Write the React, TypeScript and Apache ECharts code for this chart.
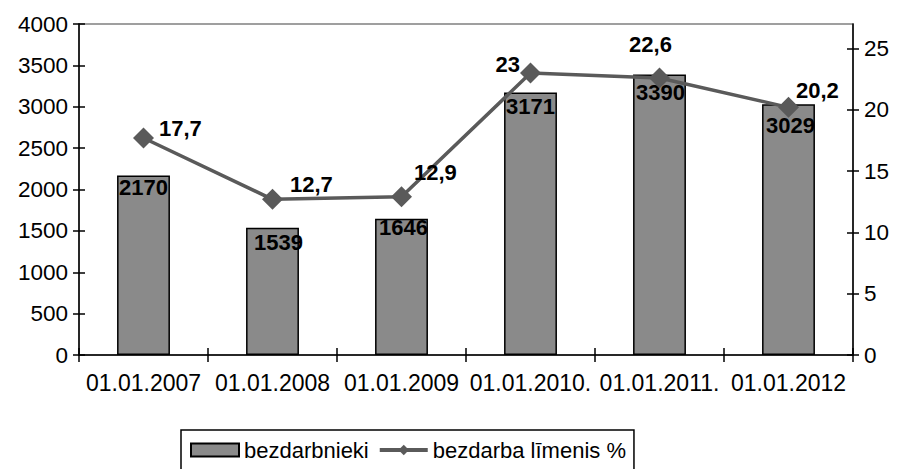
import React, { useEffect, useRef } from "react";
import * as echarts from "echarts";

const categories = ["01.01.2007", "01.01.2008", "01.01.2009", "01.01.2010.", "01.01.2011.", "01.01.2012"];
const unemployed = [2170, 1539, 1646, 3171, 3390, 3029];
const unemploymentRate = [17.7, 12.7, 12.9, 23, 22.6, 20.2];
const leftTicks = [0, 500, 1000, 1500, 2000, 2500, 3000, 3500, 4000];
const rightTicks = [0, 5, 10, 15, 20, 25];

const barLabelNudge: [number, number][] = [[0, -4], [6, -1], [2, -7], [0, -2], [1, 2], [2, 5]];
const lineLabelPlace: { position: string; offset: [number, number] }[] = [
  { position: "right", offset: [0, -10] },
  { position: "right", offset: [2, -15] },
  { position: "right", offset: [-3, -24] },
  { position: "left", offset: [5, -9] },
  { position: "top", offset: [-9, -7] },
  { position: "right", offset: [-8, -17] },
];

const FONT = "'Liberation Sans', Arial, sans-serif";

export default function App() {
  const ref = useRef<HTMLDivElement>(null);
  useEffect(() => {
    if (!ref.current) return;
    const chart = echarts.init(ref.current, null, { renderer: "svg" });
    const axisLine = { show: true, lineStyle: { color: "#000", width: 1.5 } };
    chart.setOption({
      animation: false,
      backgroundColor: "#fff",
      textStyle: { fontFamily: FONT },
      grid: {
        left: 79,
        right: 47,
        top: 24,
        bottom: 114,
        show: true,
        borderColor: "#808080",
        borderWidth: 1.5,
        backgroundColor: "transparent",
      },
      legend: {
        left: 181,
        top: 430,
        padding: [9, 8, 20, 9],
        borderColor: "#000",
        borderWidth: 1.5,
        itemWidth: 48,
        itemHeight: 13,
        itemGap: 9,
        textStyle: { fontSize: 22, color: "#000", fontFamily: FONT },
        data: [
          { name: "bezdarbnieki", icon: "rect" },
          { name: "bezdarba līmenis %", lineStyle: { width: 4, color: "#5a5a5a" } },
        ],
      },
      xAxis: [
        {
          type: "category",
          data: categories,
          position: "bottom",
          axisLine,
          axisTick: { show: true, length: 7, lineStyle: { color: "#000", width: 1.5 } },
          axisLabel: { fontSize: 23, color: "#000", margin: 16, fontFamily: FONT, interval: 0 },
          splitLine: { show: false },
        },
        {
          type: "category",
          data: categories,
          position: "bottom",
          axisLine: { show: false },
          axisTick: { show: true, inside: true, length: 7, lineStyle: { color: "#000", width: 1.5 } },
          axisLabel: { show: false },
          splitLine: { show: false },
        },
      ],
      yAxis: [
        {
          type: "value",
          position: "left",
          min: 0,
          max: 4000,
          interval: 500,
          axisLine,
          axisTick: { show: true, length: 6, lineStyle: { color: "#000", width: 1.5 } },
          axisLabel: {
            fontSize: 22.5,
            color: "#000",
            margin: 11,
            fontFamily: FONT,
            customValues: leftTicks,
            formatter: (v: number) => String(v),
          },
          splitLine: { show: false },
        },
        {
          type: "value",
          position: "right",
          min: 0,
          max: 27,
          interval: 5,
          axisLine,
          axisTick: { show: true, length: 6, customValues: rightTicks, lineStyle: { color: "#000", width: 1.5 } },
          axisLabel: { fontSize: 22.5, color: "#000", margin: 11, fontFamily: FONT, customValues: rightTicks },
          splitLine: { show: false },
        },
        {
          type: "value",
          position: "left",
          min: 0,
          max: 4000,
          interval: 500,
          axisLine: { show: false },
          axisTick: { show: true, inside: true, length: 6, lineStyle: { color: "#000", width: 1.5 } },
          axisLabel: { show: false },
          splitLine: { show: false },
        },
        {
          type: "value",
          position: "right",
          min: 0,
          max: 27,
          interval: 5,
          axisLine: { show: false },
          axisTick: { show: true, inside: true, length: 6, customValues: rightTicks, lineStyle: { color: "#000", width: 1.5 } },
          axisLabel: { show: false },
          splitLine: { show: false },
        },
      ],
      series: [
        {
          name: "bezdarbnieki",
          type: "bar",
          xAxisIndex: 0,
          yAxisIndex: 0,
          barWidth: "41%",
          itemStyle: { color: "#8a8a8a", borderColor: "#000", borderWidth: 1.5 },
          label: {
            show: true,
            position: "insideTop",
            distance: 5,
            fontSize: 22,
            fontWeight: "bold",
            color: "#000",
            fontFamily: FONT,
          },
          data: unemployed.map((v, i) => ({
            value: v,
            label: { offset: barLabelNudge[i] },
          })),
          z: 2,
        },
        {
          name: "bezdarba līmenis %",
          type: "line",
          xAxisIndex: 0,
          yAxisIndex: 1,
          symbol: "diamond",
          symbolSize: 21,
          lineStyle: { color: "#5a5a5a", width: 3.5 },
          itemStyle: { color: "#5a5a5a" },
          label: {
            show: true,
            fontSize: 22,
            fontWeight: "bold",
            color: "#000",
            fontFamily: FONT,
            formatter: (p: any) => String(p.value).replace(".", ","),
          },
          data: unemploymentRate.map((v, i) => ({
            value: v,
            label: { position: lineLabelPlace[i].position, offset: lineLabelPlace[i].offset },
          })),
          z: 3,
        },
      ],
    });
    return () => chart.dispose();
  }, []);
  return (
    <div
      ref={ref}
      style={{ position: "fixed", left: 0, top: 0, width: 900, height: 469, background: "#fff" }}
    />
  );
}
